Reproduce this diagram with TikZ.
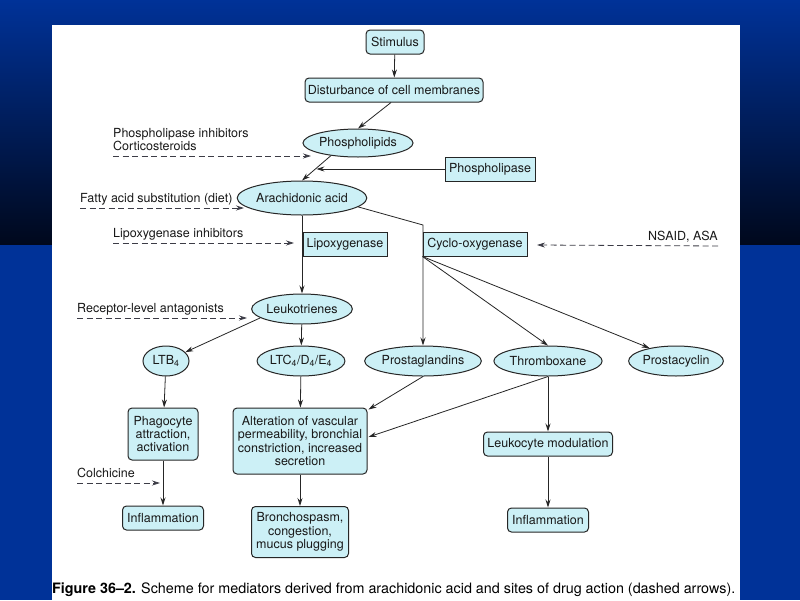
\documentclass[tikz,border=0pt]{standalone}
\usepackage{fontspec}
\setmainfont{TeX Gyre Heros}
\usetikzlibrary{shapes.geometric,arrows.meta,calc}
\definecolor{nodefill}{RGB}{204,240,246}
\definecolor{bgblue}{RGB}{0,50,152}
\definecolor{bgdark}{RGB}{0,8,28}
\definecolor{dashcol}{RGB}{60,60,70}
\tikzset{
  base/.style={draw=black!85, line width=1pt, fill=nodefill, inner sep=1pt, align=center, font=\fontsize{12.5}{13.4}\selectfont, text=black!90},
  rbox/.style={base, rectangle, rounded corners=4pt},
  sbox/.style={base, rectangle},
  ell/.style={base, ellipse, inner sep=0pt},
  lab/.style={font=\fontsize{12.5}{13.4}\selectfont, inner sep=0pt, text=black!90, align=left},
  conn/.style={draw=black!85, line width=0.8pt, -{Stealth[length=8pt,width=5pt]}},
  dasharrow/.style={draw=dashcol, line width=0.8pt, dash pattern=on 6pt off 3.5pt, -{Stealth[length=8pt,width=5pt]}}
}
\begin{document}
\begin{tikzpicture}[x=1pt,y=-1pt]
\useasboundingbox (0,0) rectangle (800,600);
% background
\shade[top color=bgblue, bottom color=bgdark] (0,0) rectangle (800,245);
\fill[bgblue] (0,245) rectangle (800,600);
\fill[white] (52,25) rectangle (740,600);

% nodes
\node[rbox, minimum width=58pt, minimum height=24pt] (stim) at (395,42) {Stimulus};
\node[rbox, minimum width=178pt, minimum height=24pt] (dist) at (394,90) {Disturbance of cell membranes};
\node[ell, minimum width=92pt, minimum height=28pt] (phl) at (358,143) {Phospholipids};
\node[sbox, minimum width=90pt, minimum height=24pt] (phase) at (490,169) {Phospholipase};
\node[ell, minimum width=102pt, minimum height=34pt] (aa) at (302,198) {Arachidonic acid};
\node[sbox, minimum width=84pt, minimum height=24pt] (lox) at (345,244) {Lipoxygenase};
\node[sbox, minimum width=104pt, minimum height=24pt] (cox) at (475,244) {Cyclo-oxygenase};
\node[ell, minimum width=86pt, minimum height=30pt] (lt) at (302,309) {Leukotrienes};
\node[ell, minimum width=46pt, minimum height=30pt] (ltb) at (166,361) {LTB\textsubscript{4}};
\node[ell, minimum width=86pt, minimum height=30pt] (ltc) at (301,361) {LTC\textsubscript{4}/D\textsubscript{4}/E\textsubscript{4}};
\node[ell, minimum width=94pt, minimum height=30pt] (pg) at (423,361) {Prostaglandins};
\node[ell, minimum width=92pt, minimum height=30pt] (tx) at (548,361) {Thromboxane};
\node[ell, minimum width=94pt, minimum height=30pt] (pc) at (676,361) {Prostacyclin};
\node[rbox, minimum width=70pt, minimum height=52pt] (phag) at (163,434) {Phagocyte\\attraction,\\activation};
\node[rbox, minimum width=134pt, minimum height=66pt] (alt) at (300,441) {Alteration of vascular\\permeability, bronchial\\constriction, increased\\secretion};
\node[rbox, minimum width=129pt, minimum height=24pt] (leuk) at (548,444) {Leukocyte modulation};
\node[rbox, minimum width=81pt, minimum height=24pt] (inf1) at (163,518) {Inflammation};
\node[rbox, minimum width=97pt, minimum height=51pt] (bron) at (300,532) {Bronchospasm,\\congestion,\\mucus plugging};
\node[rbox, minimum width=81pt, minimum height=24pt] (inf2) at (548,520) {Inflammation};

% labels
\node[lab, anchor=west] (l1) at (113,139.5) {Phospholipase inhibitors\\Corticosteroids};
\node[lab, anchor=west] (l2) at (80,199) {Fatty acid substitution (diet)};
\node[lab, anchor=west] (l3) at (113,234) {Lipoxygenase inhibitors};
\node[lab, anchor=east] (l4) at (718,237) {NSAID, ASA};
\node[lab, anchor=west] (l5) at (77,309) {Receptor-level antagonists};
\node[lab, anchor=west] (l6) at (77,473) {Colchicine};

% caption
\node[inner sep=0pt, anchor=west] (cap) at (52,590) {\resizebox{683pt}{!}{\textbf{Figure 36–2.} Scheme for mediators derived from arachidonic acid and sites of drug action (dashed arrows).}};

% dashed arrow coordinates
\coordinate (d1s) at (113,156); \coordinate (d1e) at (311,156);
\coordinate (d2s) at (80,208);  \coordinate (d2e) at (244,208);
\coordinate (d3s) at (113,243); \coordinate (d3e) at (294,243);
\coordinate (d4s) at (718,246); \coordinate (d4e) at (537,245);
\coordinate (d5s) at (77,318);  \coordinate (d5e) at (247,318);
\coordinate (d6s) at (77,483);  \coordinate (d6e) at (160,483);
\draw[dasharrow] (d1s) -- (d1e);
\draw[dasharrow] (d2s) -- (d2e);
\draw[dasharrow] (d3s) -- (d3e);
\draw[dasharrow] (d4s) -- (d4e);
\draw[dasharrow] (d5s) -- (d5e);
\draw[dasharrow] (d6s) -- (d6e);

% solid connectors
\draw[conn] (stim) -- (dist);
\draw[conn] ([xshift=-3pt]dist.south) -- (phl.north);
\draw[conn] (phl.205) -- (aa.north);
\coordinate (pmid) at ($(phl.205)!0.5!(aa.north)$);
\draw[conn] (phase.west) -- (phase.west -| pmid);
\draw[conn] (aa.south) -- (lt.north);
\coordinate (cxk) at (423,225);
\draw[conn] (aa.-9) -- (cxk) -- (pg.north);
\draw[conn] (cox.south west) -- (tx.north);
\draw[conn] (cox.south west) -- (pc.154);
\draw[conn] (lt.192) -- (ltb);
\draw[conn] (lt) -- (ltc);
\draw[conn] (ltb) -- (phag);
\draw[conn] (ltc) -- (alt);
\draw[conn] (pg.south) -- ($(alt.north east)+(1,2)$);
\draw[conn] (tx.south) -- ($(alt.east)+(1,-4)$);
\draw[conn] (tx.south) -- (leuk.north);
\draw[conn] (phag) -- (inf1);
\draw[conn] (alt) -- (bron);
\draw[conn] (leuk) -- (inf2);
\end{tikzpicture}
\end{document}
